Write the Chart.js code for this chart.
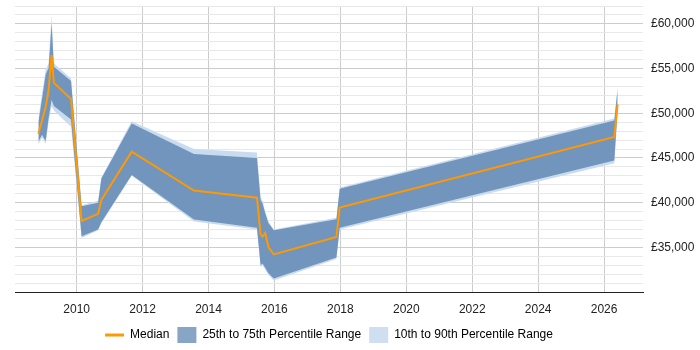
<!DOCTYPE html>
<html>
<head>
<meta charset="utf-8">
<script src="https://cdn.jsdelivr.net/npm/chart.js@4/dist/chart.umd.min.js"></script>
<style>
  html, body { margin: 0; padding: 0; background: #fff; }
  #wrap { width: 700px; height: 350px; }
</style>
</head>
<body>
<div id="wrap"><canvas id="salaryChart"></canvas></div>
<script>
// values (decimal years)
const years  = [2008.84, 2008.95, 2009.06, 2009.15, 2009.24, 2009.31, 2009.83, 2010.15, 2010.65, 2010.75, 2011.67,
                2013.56, 2015.47, 2015.58, 2015.64, 2015.72, 2015.82, 2015.98, 2017.88, 2017.98, 2026.31, 2026.41];
const median = [47700, 49200, 50700, 52600, 56500, 53400, 51600, 37950, 38750, 40300, 45700,
                41350, 40550, 36450, 36200, 36600, 35000, 34200, 36150, 39450, 47350, 51000];
const p25    = [46800, 47600, 46900, 49500, 51500, 50800, 49300, 36250, 37000, 37800, 43100,
                38100, 37200, 33000, 33200, 32700, 32100, 31500, 33850, 37200, 44700, 50500];
const p75    = [49000, 51600, 54300, 55100, 60000, 55200, 53600, 39600, 40000, 42700, 48850,
                45450, 45000, 40300, 39900, 38800, 37700, 36900, 38150, 41550, 49200, 52700];
const p10    = [46500, 47300, 46600, 49000, 50800, 50300, 48500, 36050, 36900, 37700, 43000,
                37900, 37000, 32800, 33000, 32500, 31900, 31300, 33700, 37000, 44400, 50000];
const p90    = [49400, 52200, 54900, 55600, 61000, 55600, 53900, 39700, 40200, 42800, 49100,
                46000, 45600, 40600, 40200, 39000, 37900, 37000, 38300, 41700, 49400, 53000];

const xTicks = [2010, 2012, 2014, 2016, 2018, 2020, 2022, 2024, 2026];
const yLabels = [35000, 40000, 45000, 50000, 55000, 60000];

const pts = arr => years.map((x, i) => ({ x: x, y: arr[i] }));

const ORANGE = '#ff9900';
const DARK = '#7195bd';
const LIGHT = '#c9dbee';
const FONT = { family: 'Liberation Sans, Arial, sans-serif', size: 12 };

// draws the orange line sample in front of "Median"
const medianKey = {
  id: 'medianKey',
  afterDraw(chart) {
    const box = chart.legend.legendHitBoxes[0];
    if (!box) return;
    const c = chart.ctx;
    const y = box.top + box.height / 2;
    c.save();
    c.strokeStyle = ORANGE;
    c.lineWidth = 3;
    c.beginPath();
    c.moveTo(box.left, y);
    c.lineTo(box.left + 19, y);
    c.stroke();
    c.restore();
  }
};

new Chart(document.getElementById('salaryChart'), {
  type: 'line',
  data: {
    datasets: [
      { label: 'Median', data: pts(median), borderColor: ORANGE, borderWidth: 2, pointRadius: 0, fill: false },
      { label: '25th to 75th Percentile Range', data: pts(p75), borderWidth: 0, pointRadius: 0,
        backgroundColor: DARK, fill: '+1' },
      { label: '', data: pts(p25), borderWidth: 0, pointRadius: 0, fill: false },
      { label: '10th to 90th Percentile Range', data: pts(p90), borderWidth: 0, pointRadius: 0,
        backgroundColor: LIGHT, fill: '+1' },
      { label: '', data: pts(p10), borderWidth: 0, pointRadius: 0, fill: false }
    ]
  },
  options: {
    responsive: true,
    maintainAspectRatio: false,
    animation: false,
    layout: { padding: { left: 15, right: 0, top: 0, bottom: -3 } },
    elements: { line: { tension: 0 } },
    scales: {
      x: {
        type: 'linear',
        min: 2008.13,
        max: 2027.18,
        afterBuildTicks: scale => { scale.ticks = xTicks.map(v => ({ value: v })); },
        afterFit: scale => { scale.height = 27; },
        grid: { color: '#cccccc', drawTicks: false },
        border: { color: '#222', width: 1 },
        ticks: { padding: 10, color: '#222', font: FONT, callback: v => String(v) }
      },
      y: {
        position: 'right',
        min: 30000,
        max: 62000,
        afterBuildTicks: scale => {
          const t = [];
          for (let v = 30000; v <= 62000; v += 1000) t.push({ value: v });
          scale.ticks = t;
        },
        afterFit: scale => {
          scale.width = 57;
          scale.paddingTop = 6;
          scale.paddingBottom = 0;
        },
        grid: {
          drawTicks: false,
          color: ctx => (ctx.tick && ctx.tick.value % 5000 === 0) ? '#cccccc' : '#e8e8e8'
        },
        border: { display: false },
        ticks: {
          padding: 8,
          autoSkip: false,
          color: '#222',
          font: FONT,
          callback: v => yLabels.includes(v) ? '£' + v.toLocaleString('en-GB') : ''
        }
      }
    },
    plugins: {
      tooltip: { enabled: false },
      legend: {
        position: 'bottom',
        fullSize: false,
        labels: {
          boxWidth: 19,
          boxHeight: 16,
          padding: 8,
          color: '#222',
          font: FONT,
          generateLabels: () => [
            { text: 'Median', fillStyle: 'rgba(0,0,0,0)', strokeStyle: 'rgba(0,0,0,0)', lineWidth: 0, datasetIndex: 0 },
            { text: '25th to 75th Percentile Range', fillStyle: '#88a5c6', strokeStyle: '#88a5c6', lineWidth: 0, datasetIndex: 1 },
            { text: '10th to 90th Percentile Range', fillStyle: '#cfdef0', strokeStyle: '#cfdef0', lineWidth: 0, datasetIndex: 3 }
          ]
        }
      }
    }
  },
  plugins: [medianKey]
});
</script>
</body>
</html>
